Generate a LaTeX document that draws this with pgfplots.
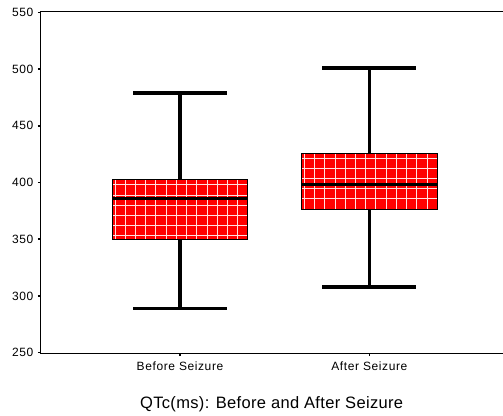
\documentclass[border=0pt]{standalone}
\usepackage{pgfplots}
\pgfplotsset{compat=1.18}
\usepackage{fontspec}
\setmainfont{Liberation Sans}
\newfontfamily\tickfont[LetterSpace=5]{Liberation Sans}
\newfontfamily\titlefont[LetterSpace=2]{Liberation Sans}
\begin{document}
\begin{tikzpicture}
\useasboundingbox (0,0) rectangle (503pt,415pt);
\begin{axis}[
  at={(40.3pt,61.3pt)}, anchor=south west,
  scale only axis, width=462.7pt, height=342.4pt,
  xmin=0.262, xmax=2.706, ymin=249.1, ymax=550.9,
  axis x line*=bottom, axis y line*=left,
  axis line style={line width=1pt, -},
  xtick={1,2}, xticklabels={Before Seizure, After Seizure},
  ytick={250,300,...,550},
  tick align=outside, major tick length=2.5pt,
  tick style={line width=1.6pt, black},
  /pgf/number format/assume math mode=true,
  ticklabel style={font=\tickfont\fontsize{12}{14}\selectfont},
  yticklabel style={xshift=-1pt},
  xticklabel style={yshift=-2pt},
  xlabel={QTc(ms): Before and After Seizure},
  xlabel style={at={(axis description cs:0.5,0)}, anchor=center, yshift=-50.5pt, font=\titlefont\fontsize{16.5}{18}\selectfont},
  unbounded coords=jump,
]
% boxes (interquartile range), filled
\addplot[fill=red, draw=none] coordinates {(0.6415,350)(1.3585,350)(1.3585,403)(0.6415,403)} -- cycle;
\addplot[fill=red, draw=none] coordinates {(1.6415,376)(2.3585,376)(2.3585,426)(1.6415,426)} -- cycle;
% white hatch grid inside the boxes
\addplot[white!88!red, line width=0.9pt, no marks] coordinates {
 (0.6566,350)(0.6566,403)(0.6566,nan)
 (0.7106,350)(0.7106,403)(0.7106,nan)
 (0.7646,350)(0.7646,403)(0.7646,nan)
 (0.8186,350)(0.8186,403)(0.8186,nan)
 (0.8726,350)(0.8726,403)(0.8726,nan)
 (0.9266,350)(0.9266,403)(0.9266,nan)
 (0.9806,350)(0.9806,403)(0.9806,nan)
 (1.0346,350)(1.0346,403)(1.0346,nan)
 (1.0886,350)(1.0886,403)(1.0886,nan)
 (1.1425,350)(1.1425,403)(1.1425,nan)
 (1.1965,350)(1.1965,403)(1.1965,nan)
 (1.2505,350)(1.2505,403)(1.2505,nan)
 (1.3045,350)(1.3045,403)(1.3045,nan)
 (0.6415,397.9)(1.3585,397.9)(1.3585,nan)
 (0.6415,389.0)(1.3585,389.0)(1.3585,nan)
 (0.6415,380.1)(1.3585,380.1)(1.3585,nan)
 (0.6415,371.2)(1.3585,371.2)(1.3585,nan)
 (0.6415,362.3)(1.3585,362.3)(1.3585,nan)
 (0.6415,353.5)(1.3585,353.5)(1.3585,nan)
 (1.6566,376)(1.6566,426)(1.6566,nan)
 (1.7106,376)(1.7106,426)(1.7106,nan)
 (1.7646,376)(1.7646,426)(1.7646,nan)
 (1.8186,376)(1.8186,426)(1.8186,nan)
 (1.8726,376)(1.8726,426)(1.8726,nan)
 (1.9266,376)(1.9266,426)(1.9266,nan)
 (1.9806,376)(1.9806,426)(1.9806,nan)
 (2.0346,376)(2.0346,426)(2.0346,nan)
 (2.0886,376)(2.0886,426)(2.0886,nan)
 (2.1425,376)(2.1425,426)(2.1425,nan)
 (2.1965,376)(2.1965,426)(2.1965,nan)
 (2.2505,376)(2.2505,426)(2.2505,nan)
 (2.3045,376)(2.3045,426)(2.3045,nan)
 (1.6415,420.8)(2.3585,420.8)(2.3585,nan)
 (1.6415,412.0)(2.3585,412.0)(2.3585,nan)
 (1.6415,403.2)(2.3585,403.2)(2.3585,nan)
 (1.6415,394.4)(2.3585,394.4)(2.3585,nan)
 (1.6415,385.6)(2.3585,385.6)(2.3585,nan)
};
% box outlines
\addplot[black, line width=0.8pt, no marks] coordinates {(0.6415,350)(1.3585,350)(1.3585,403)(0.6415,403)} -- cycle;
\addplot[black, line width=0.8pt, no marks] coordinates {(1.6415,376)(2.3585,376)(2.3585,426)(1.6415,426)} -- cycle;
% whiskers, caps and medians
\addplot[black, line width=3.3pt, no marks] coordinates {
 (1,403)(1,479)(1,nan)
 (0.7525,479)(1.2475,479)(1.2475,nan)
 (1,350)(1,289)(1,nan)
 (0.7525,289)(1.2475,289)(1.2475,nan)
 (2,426)(2,501)(2,nan)
 (1.7525,501)(2.2475,501)(2.2475,nan)
 (2,376)(2,308)(2,nan)
 (1.7525,308)(2.2475,308)(2.2475,nan)
};
\addplot[black, line width=3pt, no marks] coordinates {
 (0.6415,386)(1.3585,386)(1.3585,nan)
 (1.6415,398)(2.3585,398)(2.3585,nan)
};
\draw[line width=1pt] (rel axis cs:0,1) -- (rel axis cs:1,1);
\end{axis}
\end{tikzpicture}
\end{document}
